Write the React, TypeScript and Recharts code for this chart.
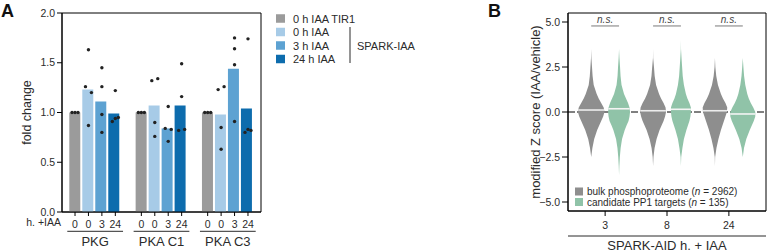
import React from "react";
import {
  Bar,
  ComposedChart,
  Label,
  Legend,
  ReferenceArea,
  ReferenceLine,
  Scatter,
  XAxis,
  YAxis
} from "recharts";

const FONT = "'Liberation Sans', Arial, Helvetica, sans-serif";
const INK = "#2b2b2b";

// ---------- panel A: fold change per kinase ----------
const proteins = ["PKG", "PKA C1", "PKA C3"];
const hourLabels = ["0", "0", "3", "24"];
const seriesNames = ["0 h IAA TIR1", "0 h IAA", "3 h IAA", "24 h IAA"];
const seriesKeys = ["tir1", "h0", "h3", "h24"];
const seriesColors = ["#9b9b9b", "#a7cbe7", "#5da2d2", "#0d6cad"];

const meanTir1 = [1.0, 1.0, 1.0];
const mean0h = [1.23, 1.07, 0.98];
const mean3h = [1.11, 0.84, 1.44];
const mean24h = [0.99, 1.07, 1.04];

// individual replicates, per kinase
const repsTir1 = [[1, 1, 1], [1, 1, 1], [1, 1, 1]];
const reps0h = [[1.63, 1.26, 1.2, 0.87], [1.32, 1.34, 0.9, 0.76], [1.23, 1.26, 0.85, 0.63]];
const reps3h = [[1.45, 1.26, 0.98, 0.8], [1.06, 0.84, 0.83, 0.71], [1.75, 1.64, 1.48, 0.91]];
const reps24h = [[1.22, 0.91, 0.94, 0.95], [1.49, 1.16, 0.82, 0.83], [1.74, 0.8, 0.83, 0.82]];
// side of the bar each replicate sits on (-1 left, 0 middle, 1 right)
const slotsTir1 = [[-1, 0, 1], [-1, 0, 1], [-1, 0, 1]];
const slots0h = [[0, -1, 1, 0], [-1, 1, 0, 0], [-1, 1, 0, 0]];
const slots3h = [[0, 0, 0, 0], [0, -1, 1, 0], [0, 0, 0, 0]];
const slots24h = [[0, -1, 0, 1], [0, 0, -1, 1], [0, -1, 0, 1]];

const foldTicks = [0, 0.5, 1, 1.5, 2];

// ---------- panel B: modified Z score ----------
const hoursB = ["3", "8", "24"];
const zTicks = [-5, -2.5, 0, 2.5, 5];
const violinLevels = [4, 3.5, 3, 2.5, 2, 1.5, 1, 0.75, 0.5, 0.25, 0, -0.25, -0.5, -0.75, -1, -1.5, -2, -2.5, -3, -3.5, -4];
// violin half widths at each level
const bulkWidths = [
  [0, 0, 0.2, 0.8, 1.4, 2.5, 5.5, 7.5, 10, 12.5, 13.3, 12, 10, 8, 6, 3, 1.2, 0, 0, 0, 0],
  [0, 0, 0.1, 0.9, 1.6, 3, 6, 8, 10.5, 12.5, 13, 12, 10.5, 8.5, 6.5, 3.5, 1.5, 0.4, 0, 0, 0],
  [0, 0, 0, 0.4, 1.3, 3, 6, 8, 10.5, 12.3, 12, 10.5, 9, 7.5, 6, 3.5, 1.5, 0.2, 0, 0, 0]
];
const pp1Widths = [
  [0, 0, 0.4, 1.0, 1.5, 2.5, 5, 7, 9, 10.5, 11, 10.5, 9.5, 7.5, 5.7, 3, 1.6, 0.8, 0.3, 0, 0],
  [0, 0.1, 0.6, 1.2, 1.8, 3, 5, 6.5, 8.5, 10, 10, 9.5, 8.5, 7, 5.5, 3, 1.5, 0.3, 0, 0, 0],
  [0, 0, 0, 0.6, 1.3, 2.5, 4.5, 6, 8, 10.5, 12.5, 12.5, 11, 9, 7, 3.5, 1.2, 0, 0, 0, 0]
];
const bulkMedian = [0.11, 0.07, 0.07];
const pp1Median = [0.18, 0.15, -0.11];
const groupNames = ["bulk phosphoproteome", "candidate PP1 targets"];
const groupCounts = [2962, 135];
const groupColors = ["#8e8e8e", "#90c3a8"];

// ---------- layout helpers ----------
const CAT_GAP = 0.11;
const BAR_GAP = 0.03;
const BAR_W = (1 - 2 * CAT_GAP - 3 * BAR_GAP) / 4;
const barCenter = (k: number) => CAT_GAP + BAR_W / 2 + k * (BAR_W + BAR_GAP);
const JITTER = 0.045;
const VIOLIN_SCALE = 1 / 62;
const VIOLIN_OFFSET = 0.225;

const barData = proteins.map((name, i) => ({
  name,
  tir1: meanTir1[i],
  h0: mean0h[i],
  h3: mean3h[i],
  h24: mean24h[i]
}));

const repSets = [repsTir1, reps0h, reps3h, reps24h];
const slotSets = [slotsTir1, slots0h, slots3h, slots24h];
const dotData = repSets.flatMap((reps, k) =>
  reps.flatMap((vals, i) =>
    vals.map((y, j) => ({ x: i + barCenter(k) + slotSets[k][i][j] * JITTER, y }))
  )
);
const hourTicks = proteins.flatMap((_, i) => hourLabels.map((__, k) => i + barCenter(k)));

function violinPoints(center: number, widths: number[]) {
  const first = widths.findIndex((w) => w > 0);
  const last = widths.length - 1 - [...widths].reverse().findIndex((w) => w > 0);
  const lo = Math.max(0, first - 1);
  const hi = Math.min(widths.length - 1, last + 1);
  const pts: { x: number; y: number }[] = [];
  for (let j = lo; j <= hi; j++) pts.push({ x: center + widths[j] * VIOLIN_SCALE, y: violinLevels[j] });
  for (let j = hi; j >= lo; j--) pts.push({ x: center - widths[j] * VIOLIN_SCALE, y: violinLevels[j] });
  return pts;
}

function widthAt(widths: number[], v: number) {
  for (let j = 0; j < violinLevels.length - 1; j++) {
    const a = violinLevels[j];
    const b = violinLevels[j + 1];
    if (v <= a && v >= b) {
      const t = (a - v) / (a - b);
      return widths[j] + t * (widths[j + 1] - widths[j]);
    }
  }
  return 0;
}

function medianSegment(center: number, widths: number[], median: number) {
  const w = widthAt(widths, median) * VIOLIN_SCALE;
  return [
    { x: center - w, y: median },
    { x: center + w, y: median }
  ];
}

const fmtZ = (v: number) => (v < 0 ? "\u2212" : "") + Math.abs(v).toFixed(1);

const ProteinTick = (props: any) => {
  const { x, y, payload, width, visibleTicksCount } = props;
  const band = (width || 199) / (visibleTicksCount || 3);
  const half = band * (0.5 - CAT_GAP) + 2;
  return (
    <g>
      <line x1={x - half} x2={x + half} y1={y + 3.3} y2={y + 3.3} stroke={INK} />
      <text x={x} y={y + 18.3} textAnchor="middle" fontSize={13} fill={INK}>
        {payload.value}
      </text>
    </g>
  );
};

const LegendA = () => (
  <svg width={160} height={60} style={{ display: "block", fontFamily: FONT }}>
    {seriesNames.map((name, i) => (
      <g key={name}>
        <rect x={0} y={2.25 + i * 13.5} width={9} height={8.5} fill={seriesColors[i]} />
        <text x={17} y={10.5 + i * 13.5} fontSize={11} fill={INK}>
          {name}
        </text>
      </g>
    ))}
    <line x1={74} x2={74} y1={15} y2={51} stroke={INK} />
    <text x={81} y={38} fontSize={11} fill={INK}>
      SPARK-IAA
    </text>
  </svg>
);

const LegendB = () => (
  <svg width={180} height={24} style={{ display: "block", fontFamily: FONT }}>
    {groupNames.map((name, i) => (
      <g key={name}>
        <rect x={0} y={1.5 + i * 10.5} width={8} height={8} fill={groupColors[i]} />
        <text x={12} y={9.1 + i * 10.5} fontSize={10} fill={INK}>
          {name} (<tspan fontStyle="italic">n</tspan> = {groupCounts[i]})
        </text>
      </g>
    ))}
  </svg>
);

function FoldChangeChart() {
  return (
    <ComposedChart
      width={440}
      height={252}
      data={barData}
      margin={{ top: 13, right: 179, bottom: 0, left: 0 }}
      barCategoryGap={`${CAT_GAP * 100}%`}
      barGap={`${BAR_GAP * 100}%`}
      style={{ fontFamily: FONT }}
    >
      <XAxis
        xAxisId="kinase"
        dataKey="name"
        axisLine={false}
        tickLine={false}
        tickSize={0}
        tickMargin={0}
        interval={0}
        tick={<ProteinTick />}
        height={24}
      />
      <XAxis
        xAxisId="hours"
        type="number"
        dataKey="x"
        domain={[0, 3]}
        allowDataOverflow
        ticks={hourTicks}
        interval={0}
        tickFormatter={(_v: number, idx: number) => hourLabels[idx % hourLabels.length]}
        tick={{ fontSize: 10.5, fill: INK }}
        tickSize={4}
        tickMargin={5}
        stroke="#000"
        height={16}
      >
        <Label
          content={({ viewBox }: any) => (
            <text x={viewBox.x - 1} y={viewBox.y + 14.3} textAnchor="end" fontSize={10.5} fill={INK}>
              h. +IAA
            </text>
          )}
        />
      </XAxis>
      <YAxis
        domain={[0, 2]}
        ticks={foldTicks}
        tickFormatter={(v: number) => v.toFixed(1)}
        tick={{ fontSize: 10.5, fill: INK }}
        tickSize={5}
        tickMargin={2}
        stroke="#000"
        width={62}
      >
        <Label
          value="fold change"
          angle={-90}
          position="insideLeft"
          offset={27}
          style={{ textAnchor: "middle" }}
          fontSize={12.5}
          fill={INK}
        />
      </YAxis>
      {seriesKeys.map((key, k) => (
        <Bar key={key} xAxisId="kinase" dataKey={key} name={seriesNames[k]} fill={seriesColors[k]} isAnimationActive={false} />
      ))}
      <Scatter
        xAxisId="hours"
        data={dotData}
        dataKey="y"
        isAnimationActive={false}
        shape={(p: any) => <circle cx={p.cx} cy={p.cy} r={1.7} fill="#222" />}
      />
      <ReferenceArea xAxisId="hours" x1={0} x2={3} y1={0} y2={2} fill="none" stroke="#000" strokeWidth={1} />
      <Legend
        layout="horizontal"
        verticalAlign="middle"
        content={<LegendA />}
        wrapperStyle={{ left: 276, top: 12, width: 160 }}
      />
    </ComposedChart>
  );
}

function ZScoreChart() {
  return (
    <ComposedChart
      width={307}
      height={252}
      margin={{ top: 13, right: 1, bottom: 0, left: 60 }}
      style={{ fontFamily: FONT }}
    >
      <XAxis
        type="number"
        dataKey="x"
        domain={[-0.6, 2.6]}
        allowDataOverflow
        ticks={[0, 1, 2]}
        tickFormatter={(v: number) => hoursB[v]}
        tick={{ fontSize: 10.5, fill: INK }}
        tickSize={5}
        tickMargin={6}
        stroke="#000"
        height={41}
      >
        <Label
          content={({ viewBox }: any) => (
            <g>
              <line x1={viewBox.x} x2={viewBox.x + viewBox.width} y1={viewBox.y + 25} y2={viewBox.y + 25} stroke={INK} />
              <text x={viewBox.x + viewBox.width / 2} y={viewBox.y + 38.8} textAnchor="middle" fontSize={13} fill={INK}>
                SPARK-AID h. + IAA
              </text>
            </g>
          )}
        />
      </XAxis>
      <YAxis
        type="number"
        domain={[-5.5, 5.5]}
        ticks={zTicks}
        tickFormatter={fmtZ}
        tick={{ fontSize: 10.5, fill: INK }}
        tickSize={6}
        tickMargin={2}
        stroke="#000"
        width={48}
      >
        <Label
          value="modified Z score (IAA/vehicle)"
          angle={-90}
          position="insideLeft"
          offset={15}
          style={{ textAnchor: "middle" }}
          fontSize={13}
          fill={INK}
        />
      </YAxis>
      <ReferenceArea x1={-0.6} x2={2.6} y1={-5.5} y2={5.5} fill="none" stroke="#000" strokeWidth={1} />
      <ReferenceLine y={0} stroke="#000" strokeDasharray="7 2" />
      {hoursB.map((h, i) => (
        <Scatter
          key={`bulk-${h}`}
          name={groupNames[0]}
          data={violinPoints(i - VIOLIN_OFFSET, bulkWidths[i])}
          dataKey="y"
          line={{ fill: groupColors[0], stroke: "none" }}
          lineJointType="linear"
          shape={() => <g />}
          isAnimationActive={false}
        />
      ))}
      {hoursB.map((h, i) => (
        <Scatter
          key={`pp1-${h}`}
          name={groupNames[1]}
          data={violinPoints(i + VIOLIN_OFFSET, pp1Widths[i])}
          dataKey="y"
          line={{ fill: groupColors[1], stroke: "none" }}
          lineJointType="linear"
          shape={() => <g />}
          isAnimationActive={false}
        />
      ))}
      {hoursB.map((h, i) => (
        <Scatter
          key={`mb-${h}`}
          data={medianSegment(i - VIOLIN_OFFSET, bulkWidths[i], bulkMedian[i])}
          dataKey="y"
          line={{ stroke: "#ececec", strokeWidth: 1.6, fill: "none" }}
          lineJointType="linear"
          shape={() => <g />}
          isAnimationActive={false}
        />
      ))}
      {hoursB.map((h, i) => (
        <Scatter
          key={`mp-${h}`}
          data={medianSegment(i + VIOLIN_OFFSET, pp1Widths[i], pp1Median[i])}
          dataKey="y"
          line={{ stroke: "#f4f4f4", strokeWidth: 1.6, fill: "none" }}
          lineJointType="linear"
          shape={() => <g />}
          isAnimationActive={false}
        />
      ))}
      {hoursB.map((h, i) => (
        <ReferenceLine
          key={`ns-${h}`}
          segment={[
            { x: i - VIOLIN_OFFSET, y: 4.78 },
            { x: i + VIOLIN_OFFSET, y: 4.78 }
          ]}
          stroke="#7a7a7a"
          label={{ value: "n.s.", position: "top", offset: 3, fontSize: 10, fontStyle: "italic", fill: "#444" }}
        />
      ))}
      <Legend
        layout="horizontal"
        verticalAlign="middle"
        content={<LegendB />}
        wrapperStyle={{ left: 115, top: 186, width: 180 }}
      />
    </ComposedChart>
  );
}

const letterStyle: React.CSSProperties = {
  position: "absolute",
  top: 2,
  fontSize: 18,
  lineHeight: 1,
  fontWeight: 700,
  fontFamily: FONT,
  color: "#111"
};

export default function App() {
  return (
    <div
      style={{
        position: "fixed",
        left: 0,
        top: 0,
        width: 767,
        height: 252,
        background: "#fff",
        overflow: "hidden"
      }}
    >
      <div style={{ position: "absolute", left: 0, top: 0 }}>
        <FoldChangeChart />
      </div>
      <div style={{ position: "absolute", left: 460, top: 0 }}>
        <ZScoreChart />
      </div>
      <div style={{ ...letterStyle, left: 1 }}>A</div>
      <div style={{ ...letterStyle, left: 488 }}>B</div>
    </div>
  );
}
